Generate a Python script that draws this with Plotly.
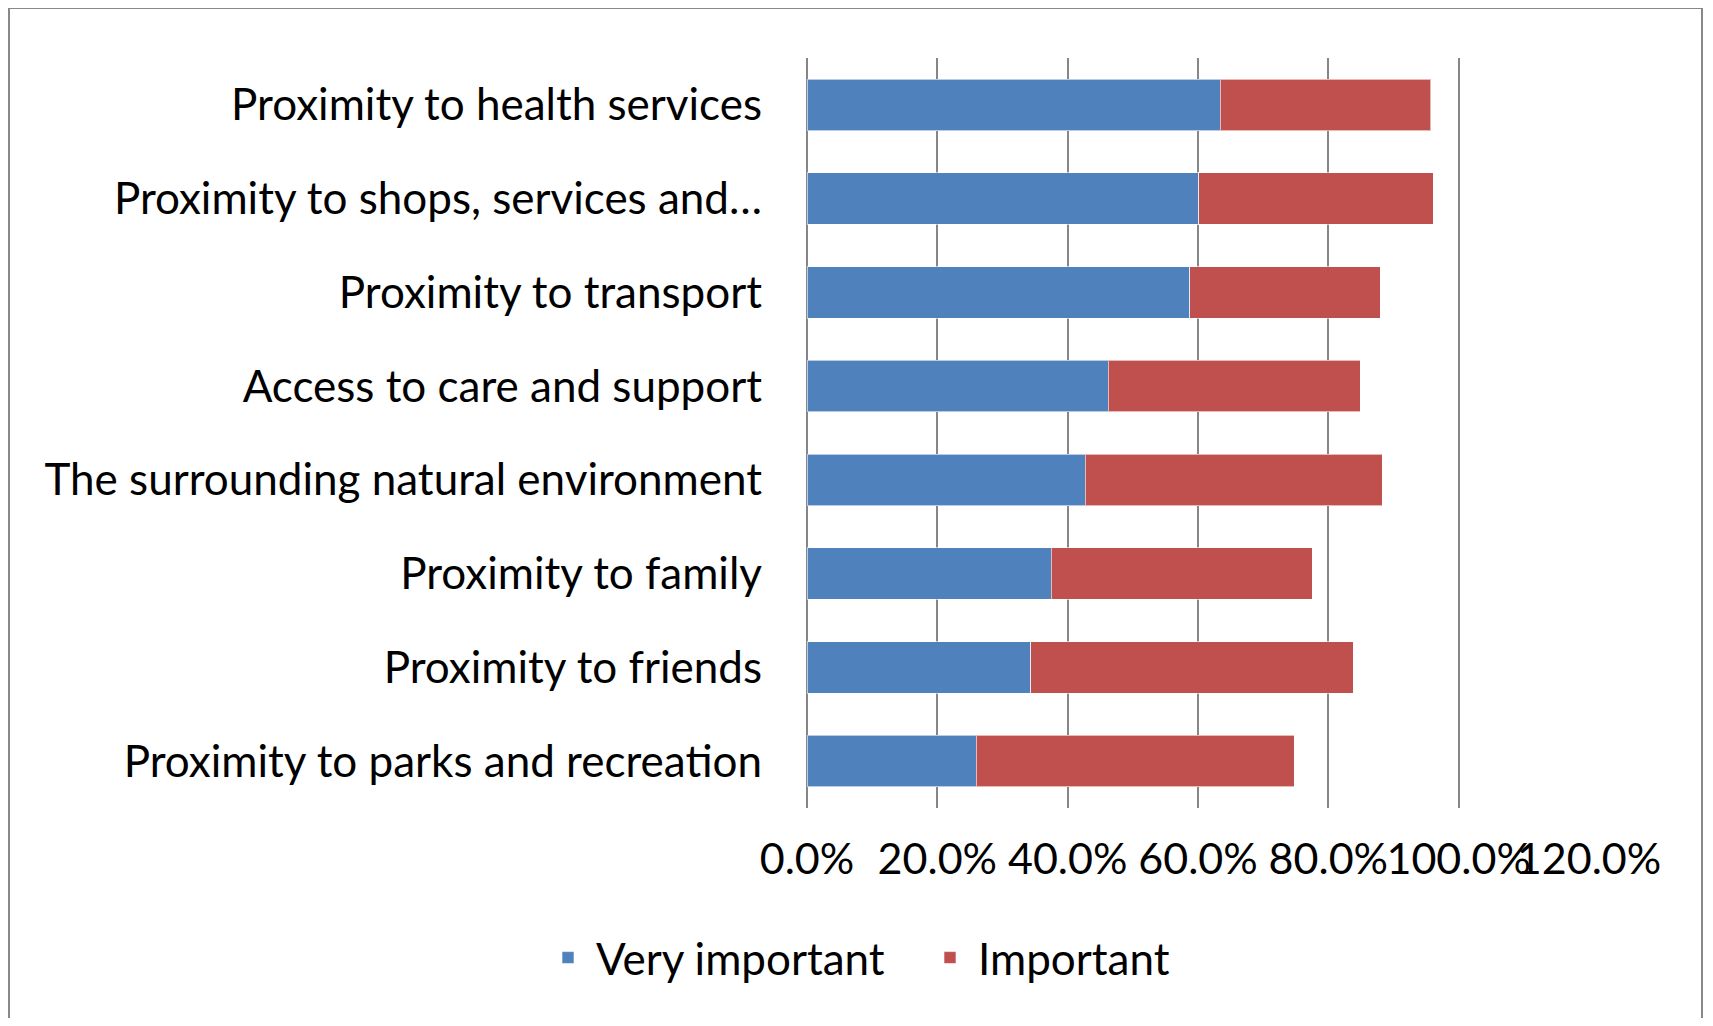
import plotly.graph_objects as go

categories = [
    "Proximity to health services",
    "Proximity to shops, services and…",
    "Proximity to transport",
    "Access to care and support",
    "The surrounding natural environment",
    "Proximity to family",
    "Proximity to friends",
    "Proximity to parks and recreation",
]
very_important = [0.634, 0.601, 0.587, 0.462, 0.427, 0.375, 0.343, 0.260]
important = [0.323, 0.360, 0.293, 0.387, 0.456, 0.400, 0.495, 0.488]
tick_values = [0, 0.2, 0.4, 0.6, 0.8, 1.0, 1.2]

OFF = 8  # page body margin
W, H = 1713 - 2 * OFF, 1026 - 2 * OFF
L, R, T, B = 807 - OFF, 1589 - OFF, 58 - OFF, 808 - OFF

def px_x(p):
    return (p - OFF - L) / (R - L)

def px_y(p):
    return (B - (p - OFF)) / (B - T)

FONT = "Lato"
FS = 44
fig = go.Figure()
fig.add_trace(go.Bar(y=categories, x=very_important, orientation="h", name="Very important",
                     marker=dict(color="#4F81BD", line=dict(color="rgba(255,255,255,0.6)", width=1))))
fig.add_trace(go.Bar(y=categories, x=important, orientation="h", name="Important",
                     marker=dict(color="#C0504D", line=dict(color="rgba(255,255,255,0.6)", width=1))))

fig.update_layout(
    width=W, height=H,
    margin=dict(l=L, r=W - R, t=T, b=H - B),
    barmode="stack", bargap=0.45,
    paper_bgcolor="white", plot_bgcolor="white",
    font=dict(family=FONT, size=FS, color="#000000"),
    showlegend=True,
    legend=dict(orientation="h", x=px_x(540), xanchor="left", y=px_y(958), yanchor="middle",
                font=dict(size=FS), traceorder="normal", itemwidth=46,
                entrywidth=321, entrywidthmode="pixels"),
    shapes=[dict(type="rect", xref="paper", yref="paper",
                 x0=px_x(9), x1=px_x(1702), y0=px_y(1040), y1=px_y(8),
                 line=dict(color="#888888", width=2), layer="below")],
)
fig.update_xaxes(range=[0, 1.2], tickvals=tick_values, tickformat=".1%", tickangle=0,
                 showgrid=True, gridcolor="#868686", gridwidth=1.5, zeroline=True,
                 zerolinecolor="#868686", zerolinewidth=1.5, showline=False, ticks="",
                 ticklabelstandoff=22, tickfont=dict(size=43))
fig.update_yaxes(autorange="reversed", showgrid=False, showline=False, ticks="",
                 ticklabelstandoff=44, tickfont=dict(size=FS))

fig.write_html("out.html")
